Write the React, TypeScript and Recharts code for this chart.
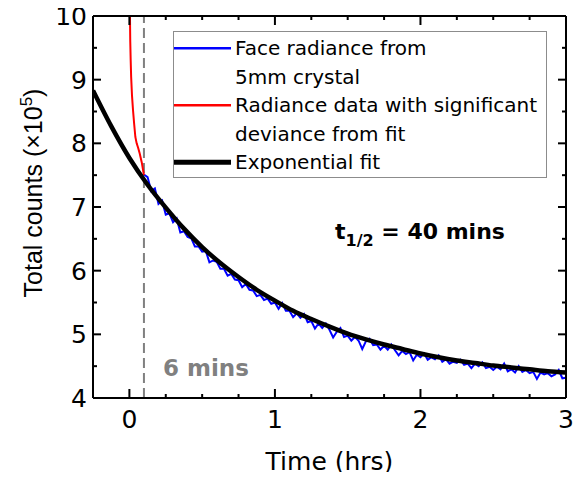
import { LineChart, Line, XAxis, YAxis, ReferenceLine, Legend } from 'recharts'

const FONT = '"DejaVu Sans", sans-serif'
const ARIAL = '"Liberation Sans", Arial, sans-serif'

// exponential fit
const fitTime = [-0.25, -0.125, 0, 0.125, 0.25, 0.375, 0.5, 0.625, 0.75, 0.875, 1, 1.125, 1.25, 1.375, 1.5, 1.625, 1.75, 1.875, 2, 2.125, 2.25, 2.375, 2.5, 2.625, 2.75, 2.875, 3]
const fitCounts = [8.83, 8.27, 7.77, 7.35, 6.99, 6.66, 6.37, 6.12, 5.9, 5.7, 5.53, 5.37, 5.24, 5.12, 5.01, 4.92, 4.84, 4.77, 4.7, 4.64, 4.59, 4.55, 4.51, 4.48, 4.45, 4.42, 4.4]

// early data that deviates from the fit
const redTime = [0.001, 0.004, 0.006, 0.009, 0.012, 0.018, 0.025, 0.033, 0.041, 0.05, 0.06, 0.071, 0.085, 0.1]
const redCounts = [10.6, 10.0, 9.6, 9.3, 9.05, 8.75, 8.52, 8.3, 8.1, 8.0, 7.93, 7.84, 7.7, 7.5]

// face radiance, 5mm crystal
const blueTime = [0.1, 0.125, 0.15, 0.175, 0.2, 0.225, 0.25, 0.275, 0.3, 0.325, 0.35, 0.375, 0.4, 0.425, 0.45, 0.475, 0.5, 0.525, 0.55, 0.575, 0.6, 0.625, 0.65, 0.675, 0.7, 0.725, 0.75, 0.775, 0.8, 0.825, 0.85, 0.875, 0.9, 0.925, 0.95, 0.975, 1, 1.025, 1.05, 1.075, 1.1, 1.125, 1.15, 1.175, 1.2, 1.225, 1.25, 1.275, 1.3, 1.325, 1.35, 1.375, 1.4, 1.425, 1.45, 1.475, 1.5, 1.525, 1.55, 1.575, 1.6, 1.625, 1.65, 1.675, 1.7, 1.725, 1.75, 1.775, 1.8, 1.825, 1.85, 1.875, 1.9, 1.925, 1.95, 1.975, 2, 2.025, 2.05, 2.075, 2.1, 2.125, 2.15, 2.175, 2.2, 2.225, 2.25, 2.275, 2.3, 2.325, 2.35, 2.375, 2.4, 2.425, 2.45, 2.475, 2.5, 2.525, 2.55, 2.575, 2.6, 2.625, 2.65, 2.675, 2.7, 2.725, 2.75, 2.775, 2.8, 2.825, 2.85, 2.875, 2.9, 2.925, 2.95, 2.975, 3]
const blueCounts = [
  7.51, 7.47, 7.25, 7.29, 7.05, 7.10, 6.88, 6.90, 6.76, 6.82,
  6.60, 6.62, 6.53, 6.51, 6.38, 6.38, 6.30, 6.31, 6.13, 6.16,
  6.14, 6.03, 6.03, 5.92, 5.95, 5.86, 5.85, 5.74, 5.79, 5.70,
  5.69, 5.60, 5.62, 5.54, 5.56, 5.48, 5.50, 5.40, 5.49, 5.37,
  5.37, 5.27, 5.33, 5.26, 5.32, 5.19, 5.21, 5.09, 5.17, 5.10,
  5.17, 5.07, 4.95, 5.04, 5.10, 4.96, 4.98, 4.90, 4.96, 4.90,
  4.77, 4.89, 4.93, 4.83, 4.84, 4.76, 4.82, 4.76, 4.84, 4.75,
  4.67, 4.74, 4.69, 4.72, 4.59, 4.68, 4.64, 4.70, 4.60, 4.64,
  4.61, 4.67, 4.57, 4.61, 4.54, 4.57, 4.55, 4.60, 4.52, 4.54,
  4.47, 4.54, 4.50, 4.56, 4.47, 4.49, 4.44, 4.49, 4.45, 4.54,
  4.42, 4.45, 4.40, 4.50, 4.41, 4.44, 4.39, 4.41, 4.30, 4.40,
  4.37, 4.39, 4.34, 4.37, 4.44, 4.31, 4.32,
]

const xTicks = [-0.25, 0, 0.25, 0.5, 0.75, 1, 1.25, 1.5, 1.75, 2, 2.25, 2.5, 2.75, 3]
const yTicks = [4, 4.5, 5, 5.5, 6, 6.5, 7, 7.5, 8, 8.5, 9, 9.5, 10]

const blueName = 'Face radiance from\n5mm crystal'
const redName = 'Radiance data with significant\ndeviance from fit'
const fitName = 'Exponential fit'
const legendOrder = [blueName, redName, fitName]

const fitData = fitTime.map((t, i) => ({ t, y: fitCounts[i] }))
const redData = redTime.map((t, i) => ({ t, y: redCounts[i] }))
const blueData = blueTime.map((t, i) => ({ t, y: blueCounts[i] }))

const isMajor = (v: number) => Number.isInteger(v)
const tickStroke = { stroke: '#000', strokeWidth: 2 }

// the axis draws 4px inward ticks; integer ticks get 5px more here
function BottomTick({ x, y, payload }: any) {
  const major = isMajor(payload.value)
  return (
    <g>
      {major && <path d={`M${x},${y}V${y - 5}`} {...tickStroke} fill="none" />}
      {major && (
        <text x={x} y={y + 34} textAnchor="middle" fontSize={25} fontFamily={FONT} fill="#000">
          {payload.value}
        </text>
      )}
    </g>
  )
}

function TopTick({ x, y, payload }: any) {
  if (!isMajor(payload.value)) return <g />
  return <path d={`M${x},${y}V${y + 5}`} {...tickStroke} fill="none" />
}

function LeftTick({ x, y, payload }: any) {
  const major = isMajor(payload.value)
  return (
    <g>
      {major && <path d={`M${x},${y}H${x + 4}`} {...tickStroke} fill="none" />}
      {major && (
        <text x={x - 10} y={y} dy="0.36em" textAnchor="end" fontSize={25} fontFamily={FONT} fill="#000">
          {payload.value}
        </text>
      )}
    </g>
  )
}

function RightTick({ x, y, payload }: any) {
  if (!isMajor(payload.value)) return <g />
  return <path d={`M${x},${y}H${x - 4}`} {...tickStroke} fill="none" />
}

function LegendBox({ payload }: any) {
  const items = (payload || [])
    .filter((e: any) => legendOrder.includes(e.value))
    .sort((a: any, b: any) => legendOrder.indexOf(a.value) - legendOrder.indexOf(b.value))
  return (
    <div
      style={{
        width: 374,
        height: 147,
        boxSizing: 'border-box',
        border: '1px solid #8c8c8c',
        background: '#fff',
        padding: '2px 0',
        fontFamily: FONT,
        fontSize: 20,
        lineHeight: '28.6px',
        color: '#000',
      }}
    >
      {items.map((e: any) => (
        <div key={e.value} style={{ display: 'flex', alignItems: 'flex-start' }}>
          <svg width={61} height={28.6} style={{ flex: 'none' }}>
            <line x1={0} x2={57} y1={14.3} y2={14.3} stroke={e.color} strokeWidth={e.value === fitName ? 5 : 2.5} />
          </svg>
          <span style={{ whiteSpace: 'pre-line' }}>{e.value}</span>
        </div>
      ))}
    </div>
  )
}

const axisCommon = {
  type: 'number' as const,
  allowDataOverflow: true,
  interval: 0 as const,
  tickSize: -4,
  tickMargin: 0,
  tickLine: tickStroke,
  axisLine: { stroke: '#000', strokeWidth: 2 },
}

const lineCommon = {
  dataKey: 'y',
  type: 'linear' as const,
  dot: false,
  activeDot: false,
  isAnimationActive: false,
}

export default function App() {
  return (
    <div style={{ margin: -8 }}>
      <LineChart width={584} height={480} margin={{ top: 15, right: 17, bottom: 0, left: 0 }}>
        <XAxis
          {...axisCommon}
          xAxisId="b"
          dataKey="t"
          domain={[-0.25, 3]}
          ticks={xTicks}
          height={82}
          tick={<BottomTick />}
          label={{ value: 'Time (hrs)', position: 'insideBottom', offset: 10, fontSize: 25, fontFamily: FONT, fill: '#000' }}
        />
        <XAxis
          {...axisCommon}
          xAxisId="top"
          orientation="top"
          dataKey="t"
          domain={[-0.25, 3]}
          ticks={xTicks}
          height={1}
          tick={<TopTick />}
        />
        <YAxis {...axisCommon} yAxisId="l" domain={[4, 10]} ticks={yTicks} width={93} tick={<LeftTick />} />
        <YAxis
          {...axisCommon}
          yAxisId="r"
          orientation="right"
          domain={[4, 10]}
          ticks={yTicks}
          width={1}
          tick={<RightTick />}
        />
        <ReferenceLine x={0.1} xAxisId="b" yAxisId="l" stroke="#808080" strokeWidth={2} strokeDasharray="10 5" />
        {/* frame edges at the top and right of the plot */}
        <ReferenceLine y={10} xAxisId="b" yAxisId="l" stroke="#000" strokeWidth={2} />
        <ReferenceLine x={3} xAxisId="b" yAxisId="l" stroke="#000" strokeWidth={2} />
        {/* invisible copy so the top and right frame axes have a series */}
        <Line {...lineCommon} xAxisId="top" yAxisId="r" data={fitData} stroke="none" legendType="none" />
        <Line {...lineCommon} xAxisId="b" yAxisId="l" data={blueData} name={blueName} stroke="#0000ff" strokeWidth={2} />
        <Line {...lineCommon} xAxisId="b" yAxisId="l" data={redData} name={redName} stroke="#ff0000" strokeWidth={2} />
        <Line
          {...lineCommon}
          xAxisId="b"
          yAxisId="l"
          data={fitData}
          name={fitName}
          type="monotone"
          stroke="#000"
          strokeWidth={4.5}
        />
        <Legend
          layout="vertical"
          align="center"
          verticalAlign="middle"
          wrapperStyle={{ top: 31, left: 173, width: 374, height: 147 }}
          content={<LegendBox />}
        />
        <text
          transform="rotate(-90 42 193)"
          x={42}
          y={193}
          textAnchor="middle"
          fontSize={25}
          fontFamily={ARIAL}
          fill="#000"
        >
          Total counts (×10<tspan dy={-10} fontSize={17}>5</tspan>
          <tspan dy={10}>)</tspan>
        </text>
        <text x={335} y={239} fontSize={22} fontWeight="bold" fontFamily={FONT} fill="#000">
          t<tspan dy={7} fontSize={16}>1/2</tspan>
          <tspan dy={-7}> = 40 mins</tspan>
        </text>
        <text x={163} y={376} fontSize={23} fontWeight="bold" fontFamily={FONT} fill="#808080">
          6 mins
        </text>
      </LineChart>
    </div>
  )
}
